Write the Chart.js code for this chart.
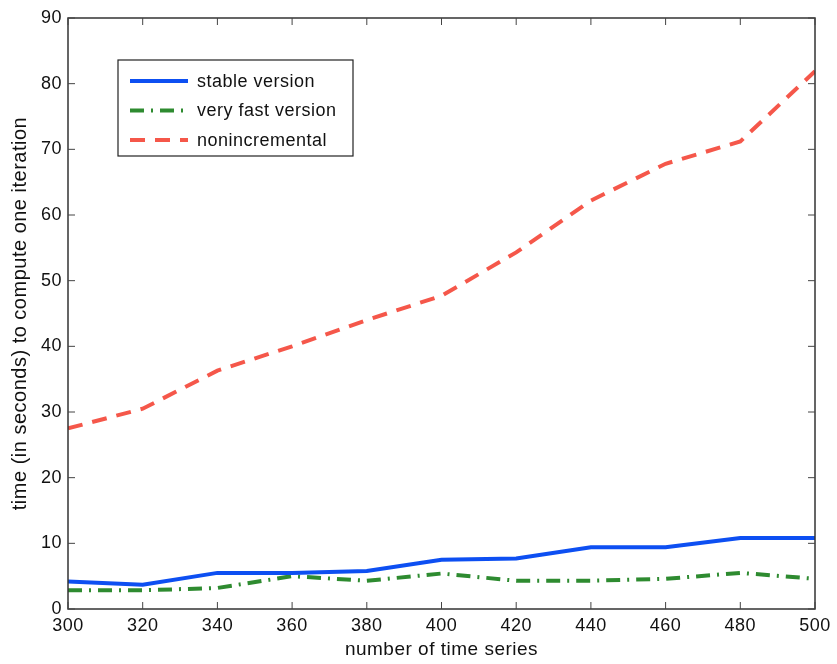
<!DOCTYPE html>
<html>
<head>
<meta charset="utf-8">
<script src="https://cdn.jsdelivr.net/npm/chart.js@4/dist/chart.umd.min.js"></script>
<style>
  body { margin: 0; background: #fff; }
  #wrap { width: 837px; height: 664px; }
</style>
</head>
<body>
<div id="wrap"><canvas id="myChart"></canvas></div>
<script>
// number of time series
let seriesCount = [300, 320, 340, 360, 380, 400, 420, 440, 460, 480, 500];
// seconds per iteration
let stableVersion = [4.2, 3.7, 5.5, 5.5, 5.8, 7.5, 7.7, 9.4, 9.4, 10.8, 10.8];
let veryFastVersion = [2.85, 2.85, 3.2, 5.0, 4.3, 5.4, 4.3, 4.3, 4.6, 5.5, 4.6];
let nonincremental = [27.5, 30.5, 36.3, 40, 44, 47.7, 54.3, 62.2, 67.8, 71.2, 81.9];

let toPoints = vals => vals.map((v, i) => ({ x: seriesCount[i], y: v }));

let fontFamily = '"Liberation Sans", Arial, Helvetica, sans-serif';

// slightly wider letter spacing, closer to the mac rendering of the original
let spacingPlugin = {
  id: 'spacing',
  beforeUpdate(chart) { chart.ctx.letterSpacing = '0.5px'; },
  beforeLayout(chart) { chart.ctx.letterSpacing = '0.5px'; },
  beforeDraw(chart) { chart.ctx.letterSpacing = '0.5px'; }
};

// matlab-like box with inward ticks
let boxPlugin = {
  id: 'box',
  afterDatasetsDraw(chart) {
    let c = chart.ctx, a = chart.chartArea;
    let xs = chart.scales.x, ys = chart.scales.y;
    c.save();
    c.strokeStyle = '#333';
    c.lineWidth = 1.5;
    c.strokeRect(a.left, a.top, a.right - a.left, a.bottom - a.top);
    c.lineWidth = 1;
    c.strokeStyle = '#444';
    c.beginPath();
    xs.ticks.forEach(t => {
      let px = xs.getPixelForValue(t.value);
      c.moveTo(px, a.bottom); c.lineTo(px, a.bottom - 7);
      c.moveTo(px, a.top); c.lineTo(px, a.top + 7);
    });
    ys.ticks.forEach(t => {
      let py = ys.getPixelForValue(t.value);
      c.moveTo(a.left, py); c.lineTo(a.left + 7, py);
      c.moveTo(a.right, py); c.lineTo(a.right - 7, py);
    });
    c.stroke();
    c.restore();
  }
};

// legend box inside the plot
let legendPlugin = {
  id: 'innerLegend',
  afterDraw(chart) {
    let c = chart.ctx;
    let x0 = 118, y0 = 60, w = 235, h = 96;
    c.save();
    c.fillStyle = '#fff';
    c.fillRect(x0, y0, w, h);
    c.strokeStyle = '#222';
    c.lineWidth = 1.2;
    c.strokeRect(x0, y0, w, h);
    c.font = '18px ' + fontFamily;
    c.textBaseline = 'middle';
    chart.data.datasets.forEach((ds, i) => {
      let y = y0 + 21 + i * 29.5;
      c.strokeStyle = ds.borderColor;
      c.lineWidth = ds.borderWidth;
      c.setLineDash(ds.borderDash || []);
      c.beginPath();
      c.moveTo(x0 + 12, y); c.lineTo(x0 + 70, y);
      c.stroke();
      c.setLineDash([]);
      c.fillStyle = '#111';
      c.fillText(ds.label, x0 + 79, y + 1);
    });
    c.restore();
  }
};

let ctx = document.querySelector('#myChart').getContext('2d');
let myChart = new Chart(ctx, {
  type: 'line',
  data: {
    datasets: [{
      label: 'stable version',
      data: toPoints(stableVersion),
      borderColor: '#0d4ff2',
      borderWidth: 4
    }, {
      label: 'very fast version',
      data: toPoints(veryFastVersion),
      borderColor: '#2e8b30',
      borderWidth: 4,
      borderDash: [14, 7, 2, 7]
    }, {
      label: 'nonincremental',
      data: toPoints(nonincremental),
      borderColor: '#f5574a',
      borderWidth: 4,
      borderDash: [15, 10]
    }]
  },
  options: {
    responsive: true,
    maintainAspectRatio: false,
    animation: false,
    layout: { padding: { left: 0, top: 18, right: 22, bottom: 0 } },
    elements: { point: { radius: 0 }, line: { tension: 0 } },
    plugins: { legend: { display: false }, tooltip: { enabled: false } },
    scales: {
      x: {
        type: 'linear',
        min: 300,
        max: 500,
        ticks: { stepSize: 20, color: '#111', padding: 6, font: { size: 18, family: fontFamily } },
        grid: { drawOnChartArea: false, drawTicks: false },
        border: { display: false },
        title: { display: true, text: 'number of time series', color: '#111', padding: { top: 3, bottom: 3 }, font: { size: 19, family: fontFamily } },
        afterFit: s => { s.height = 55; }
      },
      y: {
        min: 0,
        max: 90,
        ticks: { stepSize: 10, color: '#111', padding: 6, font: { size: 18, family: fontFamily } },
        grid: { drawOnChartArea: false, drawTicks: false },
        border: { display: false },
        title: { display: true, text: 'time (in seconds) to compute one iteration', color: '#111', padding: { top: 8, bottom: 0 }, font: { size: 20, family: fontFamily } },
        afterFit: s => { s.width = 68; }
      }
    }
  },
  plugins: [spacingPlugin, boxPlugin, legendPlugin]
});
</script>
</body>
</html>
